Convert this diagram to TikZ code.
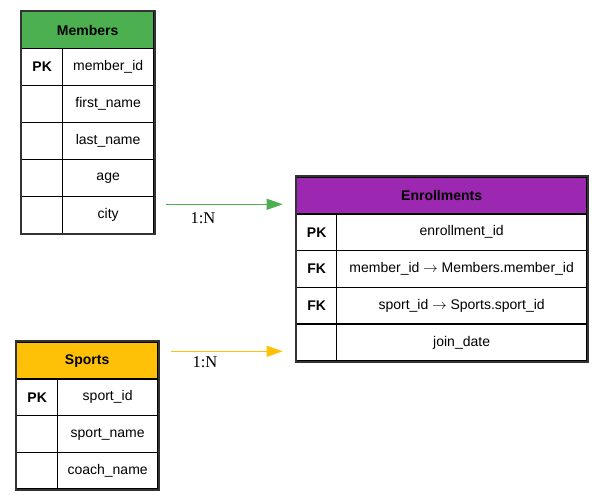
\documentclass[tikz,border=0pt]{standalone}
\usepackage{fontspec}
\setmainfont{Liberation Sans}
\newfontfamily\cardfont{Liberation Serif}
\usetikzlibrary{fit,arrows.meta}
\definecolor{memgreen}{HTML}{4CAF50}
\definecolor{enrpurple}{HTML}{9C27B0}
\definecolor{sportamber}{HTML}{FFC107}
\definecolor{framegray}{HTML}{333333}
\newcommand{\fkarrow}{ $\rightarrow$ }
\tikzset{
  cell/.style={draw=black, line width=1.3pt, anchor=north west, inner sep=0pt,
    font=\fontsize{14}{16}\selectfont, text=black},
  hdr/.style={cell, font=\bfseries\fontsize{14}{16}\selectfont},
  keycell/.style={cell, font=\bfseries\fontsize{14}{16}\selectfont},
  tabframe/.style={draw=framegray, line width=1.8pt, inner sep=0.4pt},
  rel/.style={line width=1.3pt, -{Triangle[length=16pt,width=11pt]}},
  card/.style={font=\cardfont\fontsize{16.5}{18}\selectfont, inner sep=0pt}
}
\begin{document}
\begin{tikzpicture}[x=1pt,y=-1pt]
\useasboundingbox (0,0) rectangle (603,501);
% ---------- Members ----------
\node[hdr, fill=memgreen, minimum width=132pt, minimum height=37pt] (m-h) at (21,11) {Members};
\node[keycell, minimum width=41pt, minimum height=36.9pt] (m-k1) at (21,48) {PK};
\node[cell, minimum width=91pt, minimum height=36.9pt] (m-f1) at (62,48) {member\_id};
\node[keycell, minimum width=41pt, minimum height=36.9pt] (m-k2) at (21,84.9) {};
\node[cell, minimum width=91pt, minimum height=36.9pt] (m-f2) at (62,84.9) {first\_name};
\node[keycell, minimum width=41pt, minimum height=36.9pt] (m-k3) at (21,121.8) {};
\node[cell, minimum width=91pt, minimum height=36.9pt] (m-f3) at (62,121.8) {last\_name};
\node[keycell, minimum width=41pt, minimum height=36.9pt] (m-k4) at (21,158.7) {};
\node[cell, minimum width=91pt, minimum height=36.9pt] (m-f4) at (62,158.7) {age};
\node[keycell, minimum width=41pt, minimum height=36.9pt] (m-k5) at (21,195.6) {};
\node[cell, minimum width=91pt, minimum height=36.9pt] (m-f5) at (62,195.6) {city};
\node[tabframe, fit=(m-h)(m-k5)(m-f5)] (mtab) {};
% ---------- Enrollments ----------
\node[hdr, fill=enrpurple, minimum width=290pt, minimum height=36.6pt] (e-h) at (296,176.7) {Enrollments};
\node[keycell, minimum width=40pt, minimum height=36.7pt] (e-k1) at (296,213.3) {PK};
\node[cell, minimum width=250pt, minimum height=36.7pt] (e-f1) at (336,213.3) {enrollment\_id};
\node[keycell, minimum width=40pt, minimum height=36.7pt] (e-k2) at (296,250) {FK};
\node[cell, minimum width=250pt, minimum height=36.7pt] (e-f2) at (336,250) {member\_id\fkarrow Members.member\_id};
\node[keycell, minimum width=40pt, minimum height=36.7pt] (e-k3) at (296,286.7) {FK};
\node[cell, minimum width=250pt, minimum height=36.7pt] (e-f3) at (336,286.7) {sport\_id\fkarrow Sports.sport\_id};
\node[keycell, minimum width=40pt, minimum height=36.7pt] (e-k4) at (296,323.4) {};
\node[cell, minimum width=250pt, minimum height=36.7pt] (e-f4) at (336,323.4) {join\_date};
\node[tabframe, fit=(e-h)(e-k4)(e-f4)] (etab) {};
% ---------- Sports ----------
\node[hdr, fill=sportamber, minimum width=141pt, minimum height=36.6pt] (s-h) at (16,341.7) {Sports};
\node[keycell, minimum width=41pt, minimum height=36.7pt] (s-k1) at (16,378.3) {PK};
\node[cell, minimum width=100pt, minimum height=36.7pt] (s-f1) at (57,378.3) {sport\_id};
\node[keycell, minimum width=41pt, minimum height=36.7pt] (s-k2) at (16,415) {};
\node[cell, minimum width=100pt, minimum height=36.7pt] (s-f2) at (57,415) {sport\_name};
\node[keycell, minimum width=41pt, minimum height=36.7pt] (s-k3) at (16,451.7) {};
\node[cell, minimum width=100pt, minimum height=36.7pt] (s-f3) at (57,451.7) {coach\_name};
\node[tabframe, fit=(s-h)(s-k3)(s-f3)] (stab) {};
% ---------- Relations ----------
\coordinate (gy) at (0,204.3);
\coordinate (yy) at (0,351.3);
\draw[rel, memgreen, shorten <=10pt, shorten >=12pt] (mtab.east |- gy) -- (etab.west |- gy);
\draw[rel, sportamber, shorten <=11pt, shorten >=12pt] (stab.east |- yy) -- (etab.west |- yy);
\node[card] (c1) at (203,218) {1:N};
\node[card] (c2) at (205,362.5) {1:N};
\end{tikzpicture}
\end{document}
